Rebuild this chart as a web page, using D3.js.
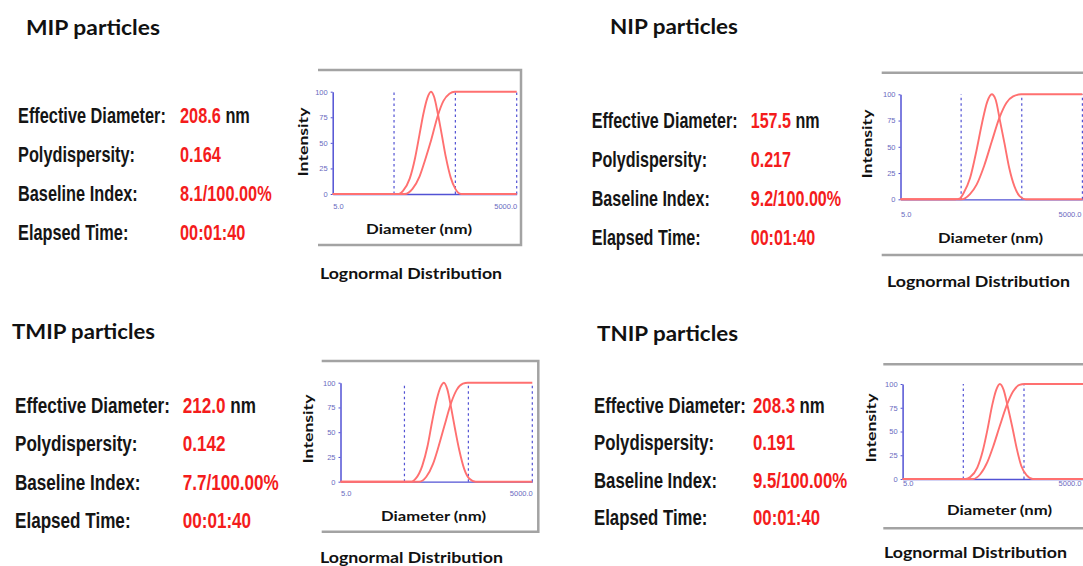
<!DOCTYPE html>
<html>
<head>
<meta charset="utf-8">
<script src="https://cdn.jsdelivr.net/npm/d3@7"></script>
<style>
  body { margin: 0; background: #fff; }
  svg { display: block; }
</style>
</head>
<body>
<div id="wrapper"></div>
<script>
// panel texts
const panelTitles = ["MIP particles", "NIP particles", "TMIP particles", "TNIP particles"];
const rowLabels = ["Effective Diameter:", "Polydispersity:", "Baseline Index:", "Elapsed Time:"];
const effectiveDiameter = ["208.6", "157.5", "212.0", "208.3"];
const polydispersity = ["0.164", "0.217", "0.142", "0.191"];
const baselineIndex = ["8.1/100.00%", "9.2/100.00%", "7.7/100.00%", "9.5/100.00%"];
const elapsedTime = ["00:01:40", "00:01:40", "00:01:40", "00:01:40"];

// axes
const diameterDomain = [5, 5000];
const xTickValues = [5, 5000];
const yTickValues = [0, 25, 50, 75, 100];
const markerDiameters = [50, 500, 5000];

// [diameter nm, intensity]
const intensityMIP = [[5,0],[60,0],[70,3],[90,15],[110,35],[130,58],[150,78],[175,94],[200,100],[225,95],[260,78],[300,58],[350,36],[420,16],[500,5],[620,0],[5000,0]];
const cumulativeMIP = [[5,0],[75,0],[100,5],[130,17],[160,33],[200,52],[260,77],[320,91],[400,98],[490,100],[5000,100]];
const intensityNIP = [[5,0],[40,0],[48,1],[55,6],[70,20],[90,47],[110,72],[135,93],[160,100],[185,95],[220,74],[260,53],[310,30],[380,12],[460,3],[580,0],[5000,0]];
const cumulativeNIP = [[5,0],[50,0],[70,5],[90,14],[120,32],[160,55],[215,78],[280,92],[360,98],[490,100],[5000,100]];
const intensityTMIP = [[5,0],[65,0],[75,3],[95,16],[115,36],[135,60],[160,83],[185,96],[207,100],[235,93],[270,74],[310,53],[360,32],[430,13],[520,3],[650,0],[5000,0]];
const cumulativeTMIP = [[5,0],[85,0],[110,5],[140,18],[170,35],[210,56],[270,80],[330,93],[410,99],[490,100],[5000,100]];
const intensityTNIP = [[5,0],[55,0],[65,2],[85,12],[105,30],[125,52],[150,78],[175,94],[200,100],[230,94],[270,76],[320,55],[380,32],[450,14],[550,4],[700,0],[5000,0]];
const cumulativeTNIP = [[5,0],[72,0],[95,5],[125,18],[155,34],[200,56],[265,79],[330,92],[420,99],[510,100],[5000,100]];

const intensitySeries = [intensityMIP, intensityNIP, intensityTMIP, intensityTNIP];
const cumulativeSeries = [cumulativeMIP, cumulativeNIP, cumulativeTMIP, cumulativeTNIP];

const width = 1083;
const height = 566;

const layouts = [
  { title: {x: 26, y: 35, w: 134}, text: {x: 18, y: 123, dy: 39, w: 148, valX: 180},
    box: {l: 318, t: 70, r: 521, b: 245}, plot: {x0: 332.7, x1: 516.7, y0: 194, y1: 91.7}, tickDy: 17,
    intensity: {x: 308, y: 142}, diameter: {x: 366, y: 234, w: 106}, lognormal: {x: 320, y: 279, w: 182} },
  { title: {x: 610, y: 34.3, w: 128}, text: {x: 591.7, y: 128, dy: 39, w: 146, valX: 750.7},
    box: {l: 881.7, t: 72.7, r: 1100, b: 255}, plot: {x0: 900.5, x1: 1082.4, y0: 199.3, y1: 94.3}, tickDy: 19,
    intensity: {x: 872, y: 144}, diameter: {x: 938, y: 243, w: 105}, lognormal: {x: 887, y: 287, w: 183} },
  { title: {x: 12, y: 339, w: 143}, text: {x: 15, y: 413, dy: 38.3, w: 155, valX: 182.7},
    box: {l: 321.7, t: 361, r: 538.3, b: 531.7}, plot: {x0: 340.5, x1: 532.3, y0: 481.7, y1: 382.7}, tickDy: 16,
    intensity: {x: 313, y: 429}, diameter: {x: 381, y: 521, w: 105}, lognormal: {x: 320, y: 563, w: 183} },
  { title: {x: 597, y: 341, w: 141}, text: {x: 594, y: 413, dy: 37.3, w: 152, valX: 753},
    box: {l: 883.3, t: 364.3, r: 1100, b: 528.3}, plot: {x0: 902.6, x1: 1084.7, y0: 479, y1: 384}, tickDy: 9,
    intensity: {x: 876, y: 428}, diameter: {x: 947, y: 515, w: 105}, lognormal: {x: 884, y: 558, w: 183} }
];

const labelFont = "'Liberation Sans Narrow', 'Arial Narrow', 'Liberation Sans', Arial, sans-serif";
const captionFont = "Lato, 'Open Sans', sans-serif";
const red = "#f41c1c";
const curveRed = "#ff7070";
const axisBlue = "#5252d4";
const tickBlue = "#6a6ac0";

const svg = d3.select("#wrapper")
  .append("svg")
  .attr("width", width)
  .attr("height", height);

svg.append("rect")
  .attr("width", width)
  .attr("height", height)
  .attr("fill", "#fff");

layouts.forEach((lay, i) => {
  const panel = svg.append("g");

  // title
  panel.append("text")
    .attr("x", lay.title.x)
    .attr("y", lay.title.y)
    .attr("textLength", lay.title.w)
    .attr("lengthAdjust", "spacingAndGlyphs")
    .style("font-family", captionFont)
    .style("font-weight", "bold")
    .style("font-size", "20px")
    .attr("fill", "#111")
    .text(panelTitles[i]);

  // measurement block
  const values = [effectiveDiameter[i], polydispersity[i], baselineIndex[i], elapsedTime[i]];
  const block = panel.append("g");
  const probe = block.append("text")
    .style("font-family", labelFont)
    .style("font-weight", "bold")
    .style("font-size", "22px")
    .text(rowLabels[0]);
  const sx = lay.text.w / probe.node().getComputedTextLength();
  probe.remove();

  rowLabels.forEach((label, r) => {
    const y = lay.text.y + r * lay.text.dy;
    block.append("text")
      .attr("transform", `translate(${lay.text.x},${y}) scale(${sx},1)`)
      .style("font-family", labelFont)
      .style("font-weight", "bold")
      .style("font-size", "22px")
      .attr("fill", "#151515")
      .text(label);
    const val = block.append("text")
      .attr("transform", `translate(${lay.text.valX},${y}) scale(${sx},1)`)
      .style("font-family", labelFont)
      .style("font-weight", "bold")
      .style("font-size", "22px");
    val.append("tspan").attr("fill", red).text(values[r]);
    if (r === 0) val.append("tspan").attr("fill", "#151515").text(" nm");
  });

  // frame
  const b = lay.box;
  panel.append("path")
    .attr("d", `M${b.l},${b.t}H${b.r}V${b.b}H${b.l}`)
    .attr("fill", "none")
    .attr("stroke", "#a3a3a3")
    .attr("stroke-width", 2.5);

  // scales
  const p = lay.plot;
  const xScale = d3.scaleLog().domain(diameterDomain).range([p.x0, p.x1]);
  const yScale = d3.scaleLinear().domain([0, 100]).range([p.y0, p.y1]);

  // dashed markers
  panel.append("g")
    .selectAll("line")
    .data(markerDiameters)
    .join("line")
    .attr("x1", d => xScale(d))
    .attr("x2", d => xScale(d))
    .attr("y1", yScale(0))
    .attr("y2", yScale(100))
    .attr("stroke", axisBlue)
    .attr("stroke-width", 1.2)
    .attr("stroke-dasharray", "2.5,3");

  // y axis
  const yAxis = panel.append("g")
    .attr("transform", `translate(${p.x0},0)`)
    .call(d3.axisLeft(yScale).tickValues(yTickValues).tickSize(2).tickSizeOuter(0).tickPadding(3));
  yAxis.select(".domain").attr("stroke", axisBlue).attr("stroke-width", 1.5);
  yAxis.selectAll(".tick line").attr("stroke", axisBlue);
  yAxis.selectAll(".tick text")
    .attr("fill", tickBlue)
    .style("font-family", "'Liberation Sans', sans-serif")
    .style("font-size", "7.5px");

  // x axis
  const xAxis = panel.append("g")
    .attr("transform", `translate(0,${p.y0})`)
    .call(d3.axisBottom(xScale).tickValues(xTickValues).tickFormat(d3.format(".1f")).tickSize(0).tickPadding(lay.tickDy - 7));
  xAxis.select(".domain").attr("stroke", axisBlue).attr("stroke-width", 1.3);
  xAxis.selectAll(".tick text")
    .attr("fill", tickBlue)
    .attr("text-anchor", (d, k) => k === 0 ? "start" : "end")
    .attr("x", (d, k) => k === 0 ? 0 : Math.min(0, width - 2 - xScale(d)))
    .style("font-family", "'Liberation Sans', sans-serif")
    .style("font-size", "7.5px");

  // curves
  const line = d3.line()
    .x(d => xScale(d[0]))
    .y(d => yScale(d[1]))
    .curve(d3.curveMonotoneX);

  [intensitySeries[i], cumulativeSeries[i]].forEach(series => {
    panel.append("path")
      .datum(series)
      .attr("d", line)
      .attr("fill", "none")
      .attr("stroke", curveRed)
      .attr("stroke-width", 1.9);
  });

  // axis captions
  panel.append("text")
    .attr("transform", `translate(${lay.intensity.x},${lay.intensity.y}) rotate(-90)`)
    .attr("text-anchor", "middle")
    .attr("textLength", 69)
    .attr("lengthAdjust", "spacingAndGlyphs")
    .style("font-family", captionFont)
    .style("font-weight", "bold")
    .style("font-size", "13px")
    .attr("fill", "#111")
    .text("Intensity");

  panel.append("text")
    .attr("x", lay.diameter.x)
    .attr("y", lay.diameter.y)
    .attr("textLength", lay.diameter.w)
    .attr("lengthAdjust", "spacingAndGlyphs")
    .style("font-family", captionFont)
    .style("font-weight", "bold")
    .style("font-size", "14px")
    .attr("fill", "#111")
    .text("Diameter (nm)");

  panel.append("text")
    .attr("x", lay.lognormal.x)
    .attr("y", lay.lognormal.y)
    .attr("textLength", lay.lognormal.w)
    .attr("lengthAdjust", "spacingAndGlyphs")
    .style("font-family", captionFont)
    .style("font-weight", "bold")
    .style("font-size", "15px")
    .attr("fill", "#111")
    .text("Lognormal  Distribution");
});
</script>
</body>
</html>
